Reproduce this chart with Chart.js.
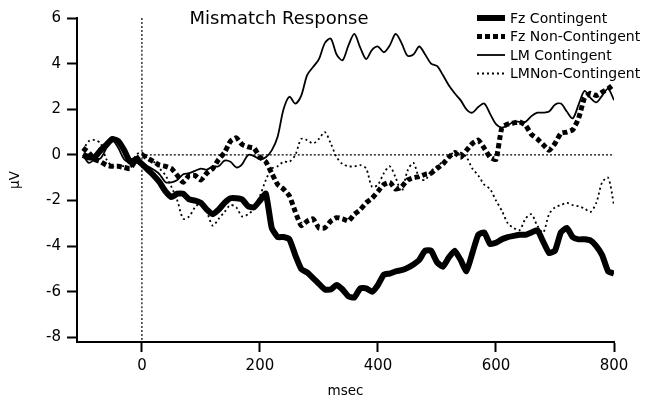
<!DOCTYPE html>
<html>
<head>
<meta charset="utf-8">
<script src="https://cdn.jsdelivr.net/npm/chart.js@4.4.1/dist/chart.umd.min.js"></script>
<style>
    html, body { margin: 0; padding: 0; background: #fff; }
    #wrap { width: 647px; height: 401px; }
</style>
</head>
<body>
<div id="wrap"><canvas id="mmn-chart"></canvas></div>
<script>
// msec, one sample every 10 ms
const times = [
    -100, -90, -80, -70, -60, -50, -40, -30, -20, -10,
    0, 10, 20, 30, 40, 50, 60, 70, 80, 90,
    100, 110, 120, 130, 140, 150, 160, 170, 180, 190,
    200, 210, 220, 230, 240, 250, 260, 270, 280, 290,
    300, 310, 320, 330, 340, 350, 360, 370, 380, 390,
    400, 410, 420, 430, 440, 450, 460, 470, 480, 490,
    500, 510, 520, 530, 540, 550, 560, 570, 580, 590,
    600, 610, 620, 630, 640, 650, 660, 670, 680, 690,
    700, 710, 720, 730, 740, 750, 760, 770, 780, 790,
    800
];

// µV values
const fzContingent = [
    0, -0.1, -0.1, 0.2, 0.45, 0.7, 0.6, 0.2, -0.3, -0.2,
    -0.4, -0.65, -0.9, -1.2, -1.6, -1.85, -1.7, -1.7, -1.95, -2.0,
    -2.1, -2.4, -2.6, -2.4, -2.1, -1.9, -1.9, -1.95, -2.25, -2.3,
    -2.0, -1.7, -3.2, -3.6, -3.6, -3.7, -4.4, -5.0, -5.15, -5.4,
    -5.65, -5.9, -5.9, -5.7, -5.9, -6.2, -6.25, -5.85, -5.85, -6.0,
    -5.7, -5.25, -5.2, -5.1, -5.05, -4.95, -4.8, -4.6, -4.2, -4.2,
    -4.7, -4.9, -4.5, -4.2, -4.6, -5.1, -4.3, -3.5, -3.4, -3.9,
    -3.85, -3.7, -3.6, -3.55, -3.5, -3.5, -3.4, -3.3, -3.8, -4.3,
    -4.2, -3.4, -3.2, -3.6, -3.7, -3.7, -3.75, -4.0, -4.4, -5.1,
    -5.2
];

const fzNonContingent = [
    0.3, 0.1, -0.2, -0.3, -0.45, -0.5, -0.5, -0.55, -0.6, -0.2,
    0.0, -0.15, -0.3, -0.45, -0.5, -0.6, -0.9, -1.2, -0.9, -0.9,
    -1.1, -0.8, -0.6, -0.2, 0.1, 0.6, 0.75, 0.45, 0.35, 0.3,
    -0.1, -0.3, -0.8, -1.3, -1.5, -1.8, -2.5, -3.1, -2.9, -2.8,
    -3.2, -3.2, -2.9, -2.75, -2.8, -2.9, -2.6, -2.4, -2.1, -1.9,
    -1.6, -1.3, -1.2, -1.5, -1.4, -1.1, -1.0, -0.95, -0.85, -0.8,
    -0.6, -0.4, -0.1, 0.1, -0.1, 0.2, 0.5, 0.65, 0.3, -0.1,
    -0.2, 1.2, 1.35, 1.4, 1.45, 1.3, 0.9, 0.7, 0.45, 0.2,
    0.5, 0.95, 1.0, 1.1, 1.6, 2.5, 2.7, 2.6, 2.75, 2.9,
    3.1
];

const lmContingent = [
    0, -0.35, -0.2, -0.15, 0.3, 0.65, 0.3, -0.2, -0.35, -0.35,
    -0.35, -0.5, -0.65, -0.85, -1.2, -1.2, -1.1, -0.85, -0.8, -0.7,
    -0.6, -0.65, -0.5, -0.5, -0.25, -0.3, -0.55, -0.4, 0.0, -0.05,
    -0.2, -0.1, 0.2, 0.8, 2.0, 2.55, 2.25, 2.6, 3.5, 3.85,
    4.2, 4.9, 5.1, 4.4, 4.15, 4.8, 5.3, 4.7, 4.2, 4.6,
    4.75, 4.5, 4.8, 5.3, 4.9, 4.35, 4.4, 4.75, 4.4, 4.0,
    3.9, 3.5, 3.05, 2.7, 2.4, 2.0, 1.85, 2.1, 2.25, 1.8,
    1.35, 1.2, 1.3, 1.45, 1.45, 1.45, 1.7, 1.85, 1.85, 1.9,
    2.2, 2.25, 1.9, 1.6, 2.2, 2.8, 2.5, 2.3, 2.6, 2.9,
    2.4
];

const lmNonContingent = [
    0.2, 0.6, 0.65, 0.5, -0.2, -0.5, -0.45, -0.5, -0.6, 0.0,
    0.1, -0.15, -0.3, -0.6, -0.9, -1.4, -2.0, -2.8, -2.7, -2.3,
    -2.1, -2.5, -3.1, -2.8, -2.5, -2.2, -2.3, -2.7, -2.6, -2.35,
    -1.8, -1.1, -0.6, -0.5, -0.3, -0.3, 0.0, 0.7, 0.65, 0.5,
    0.7, 1.0, 0.5, -0.1, -0.4, -0.5, -0.5, -0.45, -0.6, -1.4,
    -1.3, -0.8, -0.5, -1.0, -1.6, -0.7, -0.35, -1.0, -1.1, -0.7,
    -0.5, -0.3, -0.1, 0.15, 0.1, -0.1, -0.6, -0.9, -1.3, -1.5,
    -2.0, -2.45, -3.0, -3.2, -3.3, -2.8, -2.6, -3.1, -3.4, -2.6,
    -2.3, -2.2, -2.1, -2.2, -2.25, -2.35, -2.5, -2.1, -1.2, -1.0,
    -2.2
];

const seriesLabels = ['Fz Contingent', 'Fz Non-Contingent', 'LM Contingent', 'LMNon-Contingent'];
const xTicks = [0, 200, 400, 600, 800];
const yTicks = [-8, -6, -4, -2, 0, 2, 4, 6];

const FONT = "'DejaVu Sans', Verdana, sans-serif";

function toPoints(values) {
    return times.map((t, i) => ({ x: t, y: values[i] }));
}

// title and legend sit inside the plot, drawn on top of it
const overlayText = {
    id: 'overlayText',
    afterDraw(chart) {
        const ctx = chart.ctx;
        ctx.save();
        ctx.fillStyle = '#000';
        ctx.textBaseline = 'middle';

        ctx.font = '18px ' + FONT;
        ctx.textAlign = 'center';
        ctx.fillText('Mismatch Response', 279, 19);

        ctx.font = '14px ' + FONT;
        ctx.textAlign = 'left';
        const rowY = [18, 36.5, 55, 73.5];
        chart.data.datasets.forEach((ds, i) => {
            if (!ds.label) return;
            const y = rowY[i];
            ctx.strokeStyle = ds.borderColor;
            ctx.lineWidth = ds.borderWidth;
            ctx.setLineDash(ds.borderDash || []);
            ctx.beginPath();
            ctx.moveTo(477, y);
            ctx.lineTo(505, y);
            ctx.stroke();
            ctx.fillText(ds.label, 510, y + 1);
        });
        ctx.restore();
    }
};

document.addEventListener('DOMContentLoaded', function() {
    const ctx = document.getElementById('mmn-chart').getContext('2d');

    new Chart(ctx, {
        type: 'line',
        data: {
            datasets: [{
                label: seriesLabels[0],
                data: toPoints(fzContingent),
                borderColor: '#000',
                borderWidth: 6,
                borderJoinStyle: 'round'
            }, {
                label: seriesLabels[1],
                data: toPoints(fzNonContingent),
                borderColor: '#000',
                borderWidth: 5,
                borderDash: [5, 3]
            }, {
                label: seriesLabels[2],
                data: toPoints(lmContingent),
                borderColor: '#000',
                borderWidth: 1.8,
                tension: 0.3
            }, {
                label: seriesLabels[3],
                data: toPoints(lmNonContingent),
                borderColor: '#000',
                borderWidth: 1.8,
                borderDash: [2, 3],
                tension: 0.3
            }, {
                label: '',
                data: [{ x: 0, y: 0 }, { x: 800, y: 0 }],
                borderColor: '#000',
                borderWidth: 1.2,
                borderDash: [2, 2]
            }, {
                label: '',
                data: [{ x: 0, y: 6 }, { x: 0, y: -8.2 }],
                borderColor: '#000',
                borderWidth: 1.2,
                borderDash: [2, 2]
            }]
        },
        options: {
            responsive: true,
            maintainAspectRatio: false,
            animation: false,
            elements: {
                point: { radius: 0 },
                line: { fill: false, tension: 0.15 }
            },
            layout: {
                padding: { left: 0, right: 33, top: 18, bottom: 0 }
            },
            plugins: {
                legend: { display: false },
                title: { display: false },
                tooltip: { enabled: false }
            },
            scales: {
                x: {
                    type: 'linear',
                    min: -110,
                    max: 800,
                    afterBuildTicks: scale => { scale.ticks = xTicks.map(v => ({ value: v })); },
                    afterFit: scale => { scale.height = 59; },
                    border: { display: true, color: '#000', width: 2 },
                    grid: {
                        drawOnChartArea: false,
                        drawTicks: true,
                        tickLength: 10,
                        tickWidth: 2,
                        tickColor: '#000'
                    },
                    ticks: {
                        color: '#000',
                        padding: 5,
                        maxRotation: 0,
                        font: { family: FONT, size: 15 }
                    },
                    title: {
                        display: true,
                        text: 'msec',
                        color: '#000',
                        padding: { top: 0, bottom: 1 },
                        font: { family: FONT, size: 13.5 }
                    }
                },
                y: {
                    min: -8.2,
                    max: 6,
                    afterBuildTicks: scale => { scale.ticks = yTicks.map(v => ({ value: v })); },
                    afterFit: scale => { scale.width = 77; },
                    border: { display: true, color: '#000', width: 2 },
                    grid: {
                        drawOnChartArea: false,
                        drawTicks: true,
                        tickLength: 10,
                        tickWidth: 2,
                        tickColor: '#000'
                    },
                    ticks: {
                        color: '#000',
                        padding: 6,
                        font: { family: FONT, size: 15 }
                    },
                    title: {
                        display: true,
                        text: 'µV',
                        color: '#000',
                        padding: { top: 7, bottom: 0 },
                        font: { family: FONT, size: 13.5 }
                    }
                }
            }
        },
        plugins: [overlayText]
    });
});
</script>
</body>
</html>
